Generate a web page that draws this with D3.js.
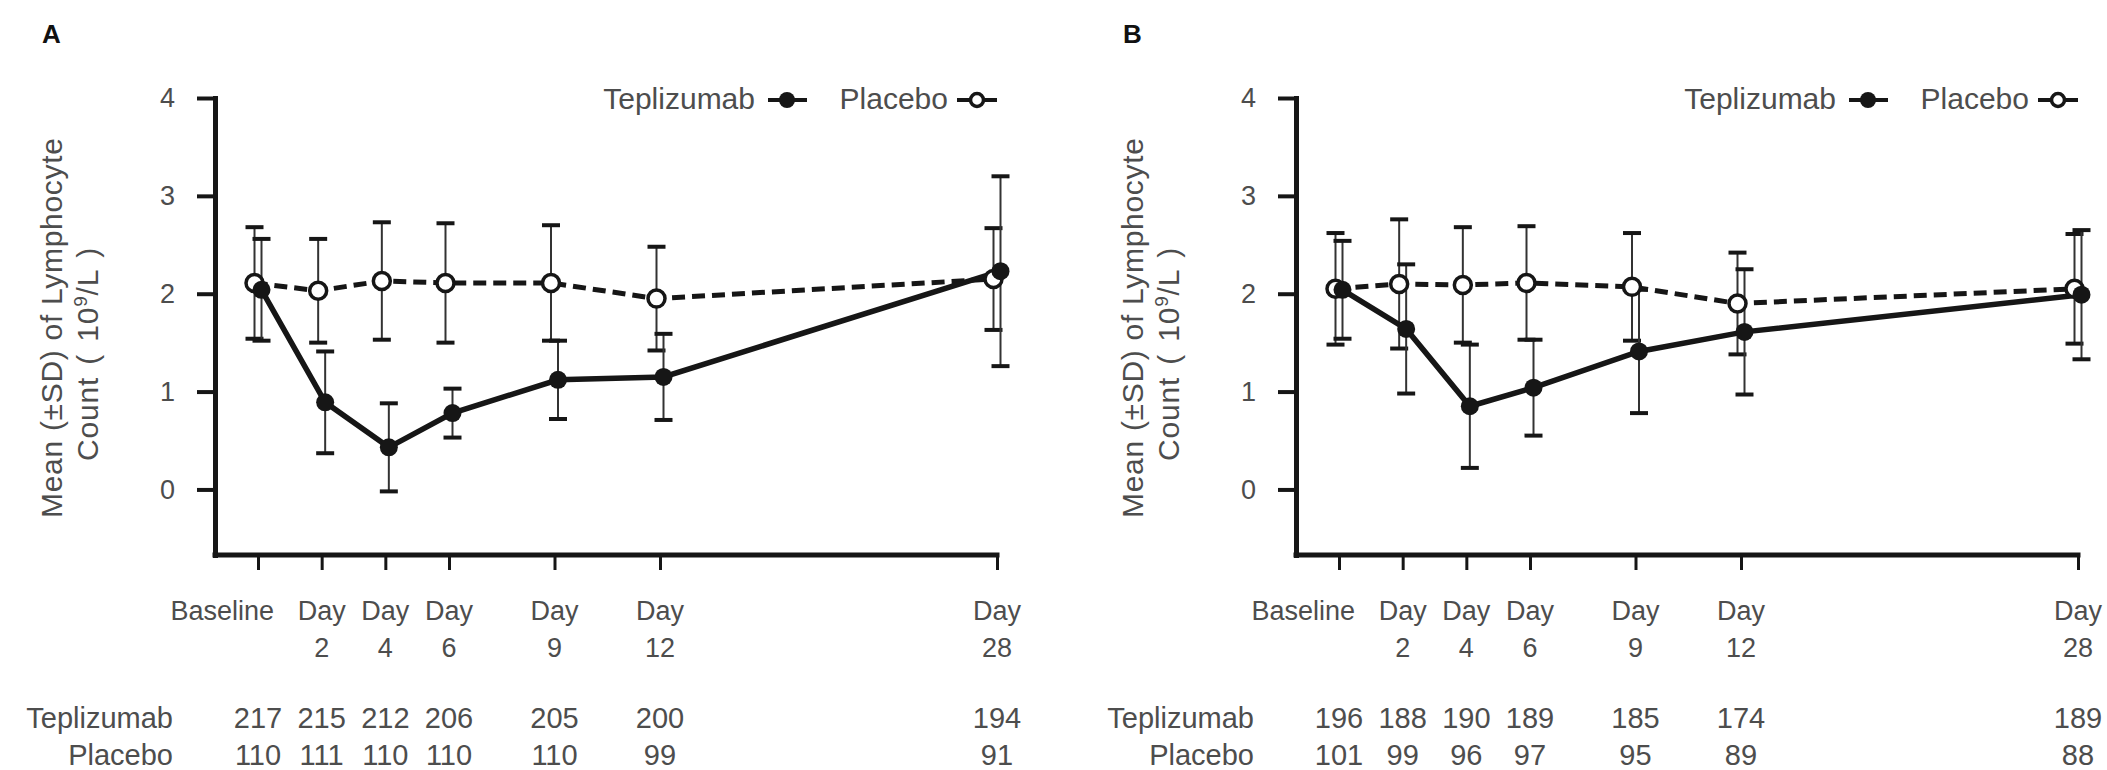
<!DOCTYPE html>
<html><head><meta charset="utf-8">
<script src="https://cdn.jsdelivr.net/npm/d3@7"></script>
<style>
body{margin:0;background:#fff}
svg{display:block}
text{font-family:"Liberation Sans",Arial,Helvetica,sans-serif}
</style>
</head><body>
<svg id="c" width="2107" height="770"></svg>
<script>
// ---------------- data ----------------
const days = [0, 2, 4, 6, 9, 12, 28];
const tickLine1 = ["Baseline", "Day", "Day", "Day", "Day", "Day", "Day"];
const tickLine2 = ["", "2", "4", "6", "9", "12", "28"];
const yTicks = [0, 1, 2, 3, 4];
const seriesNames = ["Teplizumab", "Placebo"];
const panelLabels = ["A", "B"];
const yTitle1 = "Mean (\u00B1SD) of Lymphocyte";

const tepMeanA = [2.04, 0.89, 0.43, 0.78, 1.12, 1.15, 2.23];
const tepSdA   = [0.52, 0.52, 0.45, 0.25, 0.40, 0.44, 0.97];
const plaMeanA = [2.11, 2.03, 2.13, 2.11, 2.11, 1.95, 2.15];
const plaSdA   = [0.57, 0.53, 0.60, 0.61, 0.59, 0.53, 0.52];

const tepMeanB = [2.04, 1.64, 0.85, 1.04, 1.41, 1.61, 1.99];
const tepSdB   = [0.50, 0.66, 0.63, 0.49, 0.63, 0.64, 0.66];
const plaMeanB = [2.05, 2.10, 2.09, 2.11, 2.07, 1.90, 2.05];
const plaSdB   = [0.57, 0.66, 0.59, 0.58, 0.55, 0.52, 0.56];

const nTepA = [217, 215, 212, 206, 205, 200, 194];
const nPlaA = [110, 111, 110, 110, 110, 99, 91];
const nTepB = [196, 188, 190, 189, 185, 174, 189];
const nPlaB = [101, 99, 96, 97, 95, 89, 88];

// ---------------- build ----------------
const panels = [
  {label: panelLabels[0], tep: tepMeanA, tepSd: tepSdA, pla: plaMeanA, plaSd: plaSdA, nTep: nTepA, nPla: nPlaA},
  {label: panelLabels[1], tep: tepMeanB, tepSd: tepSdB, pla: plaMeanB, plaSd: plaSdB, nTep: nTepB, nPla: nPlaB}
];
const panelOffsets = [0, 1081];
const ink = "#161616", txt = "#4d4d4d";

const svg = d3.select("#c");
const y = d3.scaleLinear().domain([-0.67, 4]).range([555, 98]);
const x = d3.scaleLinear().domain([0, 6, 12, 28]).range([258, 449, 660, 997]);
const axisX0 = 215;

panels.forEach((p, i) => {
  const g = svg.append("g").attr("transform", `translate(${panelOffsets[i]},0)`);

  // panel letter
  g.append("text").attr("x", 42).attr("y", 43).attr("font-size", 26)
    .attr("font-weight", "bold").attr("fill", "#111").text(p.label);

  // y title
  const yt = g.append("g").attr("fill", txt).attr("font-size", 30);
  yt.append("text").attr("transform", "translate(62,328) rotate(-90)")
    .attr("text-anchor", "middle").attr("textLength", 380).attr("lengthAdjust", "spacing")
    .text(yTitle1);
  const t2 = yt.append("text").attr("transform", "translate(98,354) rotate(-90)")
    .attr("text-anchor", "middle").attr("letter-spacing", 0.8).attr("word-spacing", 3);
  t2.append("tspan").text("Count ( 10");
  t2.append("tspan").attr("font-size", 19).attr("dy", -11).text("9");
  t2.append("tspan").attr("dy", 11).text("/L )");

  // y axis
  const ya = g.append("g").attr("transform", `translate(${axisX0},0)`)
    .call(d3.axisLeft(y).tickValues(yTicks).tickSize(18).tickSizeOuter(0).tickPadding(22).tickFormat(d3.format("d")));
  ya.attr("font-size", 27);
  ya.select(".domain").attr("stroke", ink).attr("stroke-width", 5).attr("stroke-linecap", "square");
  ya.selectAll(".tick line").attr("stroke", ink).attr("stroke-width", 4);
  ya.selectAll(".tick text").attr("fill", txt);

  // x axis
  const xa = g.append("g").attr("transform", `translate(0,${y(-0.67)})`)
    .call(d3.axisBottom(x).tickValues(days).tickSize(15).tickSizeOuter(0).tickFormat(""));
  xa.select(".domain").remove();
  xa.selectAll(".tick line").attr("stroke", ink).attr("stroke-width", 3);
  g.append("line").attr("x1", axisX0).attr("x2", x(d3.max(days)))
    .attr("y1", y(-0.67)).attr("y2", y(-0.67))
    .attr("stroke", ink).attr("stroke-width", 5).attr("stroke-linecap", "square");

  // x tick labels (two lines)
  const tl = g.append("g").attr("fill", txt).attr("font-size", 27);
  tl.selectAll("text.l1").data(days).join("text").attr("class", "l1")
    .attr("x", (d, j) => j === 0 ? x(d) + 16 : x(d))
    .attr("text-anchor", (d, j) => j === 0 ? "end" : "middle")
    .attr("y", 620).text((d, j) => tickLine1[j]);
  tl.selectAll("text.l2").data(days).join("text").attr("class", "l2")
    .attr("x", d => x(d)).attr("text-anchor", "middle")
    .attr("y", 657).text((d, j) => tickLine2[j]);

  // N table
  const tb = g.append("g").attr("fill", txt).attr("font-size", 29);
  [[seriesNames[0], p.nTep, 728], [seriesNames[1], p.nPla, 765]].forEach(([name, vals, yy]) => {
    tb.append("text").attr("x", 173).attr("y", yy).attr("text-anchor", "end").text(name);
    tb.selectAll(null).data(days).join("text")
      .attr("x", d => x(d)).attr("y", yy).attr("text-anchor", "middle")
      .text((d, j) => vals[j]);
  });

  // legend
  const lg = g.append("g");
  lg.append("text").attr("x", 755).attr("y", 109).attr("text-anchor", "end")
    .attr("font-size", 30).attr("fill", txt).text(seriesNames[0]);
  lg.append("line").attr("x1", 768).attr("x2", 807).attr("y1", 100).attr("y2", 100)
    .attr("stroke", ink).attr("stroke-width", 4);
  lg.append("circle").attr("cx", 787).attr("cy", 100).attr("r", 8).attr("fill", ink);
  lg.append("text").attr("x", 948).attr("y", 109).attr("text-anchor", "end")
    .attr("font-size", 30).attr("fill", txt).text(seriesNames[1]);
  lg.append("line").attr("x1", 957).attr("x2", 997).attr("y1", 100).attr("y2", 100)
    .attr("stroke", ink).attr("stroke-width", 4);
  lg.append("circle").attr("cx", 977).attr("cy", 100).attr("r", 6.5)
    .attr("fill", "#fff").attr("stroke", ink).attr("stroke-width", 3.5);

  // series
  const series = [
    {key: "pla", m: p.pla, sd: p.plaSd, off: -3.5, dash: "13,7", filled: false},
    {key: "tep", m: p.tep, sd: p.tepSd, off: 3.5, dash: null, filled: true}
  ];
  series.forEach(s => {
    s.pts = days.map((d, j) => ({d, m: s.m[j], sd: s.sd[j]}));
  });

  // error bars
  series.forEach(s => {
    const eb = g.append("g");
    eb.selectAll("line.v").data(s.pts).join("line").attr("class", "v")
      .attr("x1", d => x(d.d) + s.off).attr("x2", d => x(d.d) + s.off)
      .attr("y1", d => y(d.m + d.sd)).attr("y2", d => y(d.m - d.sd))
      .attr("stroke", "#333").attr("stroke-width", 2);
    [1, -1].forEach(sg => {
      eb.selectAll(null).data(s.pts).join("line")
        .attr("x1", d => x(d.d) + s.off - 9).attr("x2", d => x(d.d) + s.off + 9)
        .attr("y1", d => y(d.m + sg * d.sd)).attr("y2", d => y(d.m + sg * d.sd))
        .attr("stroke", ink).attr("stroke-width", 4);
    });
  });

  // lines
  series.forEach(s => {
    const line = d3.line().x(d => x(d.d) + s.off).y(d => y(d.m));
    g.append("path").datum(s.pts).attr("d", line).attr("fill", "none")
      .attr("stroke", ink).attr("stroke-width", s.filled ? 5.5 : 5)
      .attr("stroke-dasharray", s.dash);
  });

  // markers
  series.forEach(s => {
    g.append("g").selectAll("circle").data(s.pts).join("circle")
      .attr("cx", d => x(d.d) + s.off).attr("cy", d => y(d.m))
      .attr("r", s.filled ? 9 : 8.5)
      .attr("fill", s.filled ? ink : "#fff")
      .attr("stroke", ink).attr("stroke-width", s.filled ? 0 : 3.5);
  });
});
</script>
</body></html>
